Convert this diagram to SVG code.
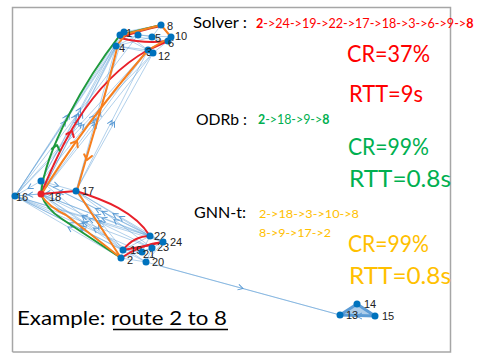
<svg xmlns="http://www.w3.org/2000/svg" width="477" height="354" viewBox="0 0 477 354">
  <style>
    .e { fill: none; stroke: #5b9bd5; stroke-width: 0.8; stroke-opacity: 0.6; marker-mid: url(#ah); }
    .ep { fill: none; stroke: #5b9bd5; stroke-width: 0.8; stroke-opacity: 0.6; }
    .nd { fill: #0072bd; }
    .lb { font-family: "Liberation Sans", Arial, sans-serif; font-size: 11px; fill: #222; }
    .rt { fill: none; stroke-width: 2; stroke-linecap: round; stroke-linejoin: round; }
    .red { stroke: #e8202a; }
    .grn { stroke: #1e9a3c; }
    .org { stroke: #f77f1e; }
    .cv { fill: none; stroke-width: 2; stroke-linecap: round; stroke-linejoin: round; }
    .t { font-family: Lato, "Liberation Sans", sans-serif; }
  </style>
  <defs>
    <marker id="ah" viewBox="-6 -4 8 8" markerWidth="8" markerHeight="8" refX="0" refY="0" orient="auto" markerUnits="userSpaceOnUse">
      <path d="M-5,-2.8 L0,0 L-5,2.8" fill="none" stroke="#5b9bd5" stroke-width="1"/>
    </marker>
    <path id="cv" d="M-5,-4 L0,0 L-5,4"/>
  </defs>

  <rect width="477" height="354" fill="#ffffff"/>
  <!-- frame -->
  <path d="M12.5 352 L12.5 7.5 L450.5 7.5 L450.5 352 L12.5 352" fill="none" stroke="#a6a6a6" stroke-width="1.5"/>

  <g id="connectors">
    <!-- top cluster internal -->
    <path class="ep" d="M124 32 L161 25 M120 35 L161 25 M116 46 L148 50 M116 46 L153 53 M124 32 L152 37 M138 35 L171 37 M120 35 L168 41 M116 46 L152 37 M148 50 L171 37 M153 53 L168 41 M124 32 L148 50 M120 35 L153 53 M116 46 L138 35 M152 37 L161 25 M161 25 L171 37"/>
    <!-- left group to top cluster -->
    <path class="e" d="M15 196 L65.5 121 L116 46"/>
    <path class="e" d="M15 196 L67.5 115.5 L120 35"/>
    <path class="e" d="M15 196 L69.5 114 L124 32"/>
    <path class="e" d="M15 196 L81.5 123 L148 50"/>
    <path class="e" d="M15 196 L84 124.5 L153 53"/>
    <path class="e" d="M15 196 L76.5 115.5 L138 35"/>
    <path class="e" d="M41 194 L78.5 120 L116 46"/>
    <path class="e" d="M41 194 L82.5 113 L124 32"/>
    <path class="e" d="M41 194 L97 123.5 L153 53"/>
    <path class="e" d="M41 194 L94.5 122 L148 50"/>
    <path class="e" d="M41 181 L78.5 113.5 L116 46"/>
    <path class="e" d="M41 181 L80.5 108 L120 35"/>
    <path class="e" d="M41 181 L94.5 115.5 L148 50"/>
    <path class="e" d="M76 191 L112 120.5 L148 50"/>
    <path class="e" d="M76 191 L114.5 122 L153 53"/>
    <path class="e" d="M76 191 L96 118.5 L116 46"/>
    <path class="e" d="M76 191 L100 111.5 L124 32"/>
    <!-- left group internal -->
    <path class="e" d="M41 194 L28 195 L15 196"/>
    <path class="e" d="M41 181 L28 188.5 L15 196"/>
    <path class="e" d="M76 191 L45.5 193.5 L15 196"/>
    <path class="ep" d="M41 181 L41 194"/>
    <path class="e" d="M41 181 L58.5 186 L76 191"/>
    <path class="e" d="M76 191 L58.5 192.5 L41 194"/>
    <!-- bottom cluster to left group -->
    <path class="e" d="M121 258 L68 227 L15 196"/>
    <path class="e" d="M123 250 L69 223 L15 196"/>
    <path class="e" d="M146 262 L80.5 229 L15 196"/>
    <path class="e" d="M142 252 L78.5 224 L15 196"/>
    <path class="e" d="M150 236 L82.5 216 L15 196"/>
    <path class="e" d="M152 248 L83.5 222 L15 196"/>
    <path class="e" d="M163 242 L89 219 L15 196"/>
    <path class="e" d="M121 258 L81 226 L41 194"/>
    <path class="e" d="M123 250 L82 222 L41 194"/>
    <path class="e" d="M150 236 L95.5 215 L41 194"/>
    <path class="e" d="M163 242 L102 218 L41 194"/>
    <path class="e" d="M152 248 L96.5 221 L41 194"/>
    <path class="e" d="M146 262 L93.5 228 L41 194"/>
    <path class="e" d="M150 236 L113 213.5 L76 191"/>
    <path class="e" d="M163 242 L119.5 216.5 L76 191"/>
    <path class="e" d="M123 250 L99.5 220.5 L76 191"/>
    <path class="e" d="M121 258 L98.5 224.5 L76 191"/>
    <path class="e" d="M152 248 L114 219.5 L76 191"/>
    <path class="e" d="M150 236 L95.5 208.5 L41 181"/>
    <path class="e" d="M163 242 L102 211.5 L41 181"/>
    <path class="e" d="M123 250 L82 215.5 L41 181"/>
    <!-- bottom cluster internal -->
    <path class="ep" d="M121 258 L123 250 M123 250 L150 236 M150 236 L163 242 M163 242 L152 248 M142 252 L152 248 M121 258 L146 262 M146 262 L163 242 M123 250 L142 252 M142 252 L150 236 M121 258 L152 248 M123 250 L163 242 M146 262 L152 248"/>
    <!-- long edge to right group -->
    <path class="e" d="M146 262 L243 288.5 L340 315"/>
    <path class="ep" d="M160 266 L340 315"/>
    <!-- right group -->
    <path d="M340 315 L357 304 L375 316 Z" fill="#5b9bd5" fill-opacity="0.5" stroke="#5b9bd5" stroke-width="3" stroke-linejoin="round"/>
    <path d="M362 313 L356 316 L362 319" fill="none" stroke="#5b9bd5" stroke-width="1"/>

    <!-- Solver route -->
    <path class="rt red" d="M121 258 Q142 244 163 242"/>
    <path class="rt red" d="M163 242 Q143 247 123 250"/>
    <path class="rt red" d="M123 250 Q134 236 150 236"/>
    <path class="rt red" d="M150 236 C135 212 105 200 76 191"/>
    <path class="rt red" d="M76 191 L41 194"/>
    <path class="rt red" d="M41 194 C55 160 85 85 148 50"/>
    <path class="rt red" d="M148 50 L168 41"/>
    <path class="rt red" d="M168 41 Q145 44 120 38"/>
    <path class="rt red" d="M120 38 Q140 30 161 26"/>
    <!-- ODRb route -->
    <path class="rt grn" d="M121 258 L62 219 Q46 209 41 194"/>
    <path class="rt grn" d="M41 194 C45 150 85 80 120 35"/>
    <path class="rt grn" d="M120 35 L161 25"/>
    <!-- GNN-t route -->
    <path class="rt org" d="M121 258 L66 215 Q49 207 41 195"/>
    <path class="rt org" d="M41 195 Q80 130 148 50"/>
    <path class="rt org" d="M148 50 L171 37"/>
    <path class="rt org" d="M171 37 L161 25"/>
    <path class="rt org" d="M161 25 L126 34 L118 44"/>
    <path class="rt org" d="M118 44 C105 100 88 150 77 191"/>
    <path class="rt org" d="M77 191 L121 258"/>
    <!-- direction marks on routes -->
    <use href="#cv" class="cv red" transform="translate(72,131) rotate(-68)"/>
    <use href="#cv" class="cv grn" transform="translate(57,145) rotate(-76)"/>
    <use href="#cv" class="cv org" transform="translate(77,141) rotate(-58)"/>
    <use href="#cv" class="cv org" transform="translate(87,160) rotate(102)"/>
  </g>

  <g id="nodes">
    <g id="n1"><circle class="nd" cx="124" cy="32" r="3.5"/><text class="lb" x="126" y="37">1</text></g>
    <g id="n3"><circle class="nd" cx="148" cy="50" r="3.5"/><text class="lb" x="146" y="56">3</text></g>
    <g id="n4"><circle class="nd" cx="116" cy="46" r="3.5"/><text class="lb" x="119" y="52">4</text></g>
    <g id="n5"><circle class="nd" cx="152" cy="37" r="3.5"/><text class="lb" x="155" y="42">5</text></g>
    <g id="n6"><circle class="nd" cx="168" cy="41" r="3.5"/><text class="lb" x="168" y="47">6</text></g>
    <g id="n7"><circle class="nd" cx="138" cy="35" r="3.5"/></g>
    <g id="n8"><circle class="nd" cx="161" cy="25" r="3.5"/><text class="lb" x="167" y="30">8</text></g>
    <g id="n9"><circle class="nd" cx="120" cy="35" r="3.5"/></g>
    <g id="n10"><circle class="nd" cx="171" cy="37" r="3.5"/><text class="lb" x="175" y="40">10</text></g>
    <g id="n12"><circle class="nd" cx="153" cy="53" r="3.5"/><text class="lb" x="158" y="60">12</text></g>
    <g id="n11"><circle class="nd" cx="41" cy="181" r="3.5"/></g>
    <g id="n16"><circle class="nd" cx="15" cy="196" r="3.5"/><text class="lb" x="16" y="201">16</text></g>
    <g id="n17"><circle class="nd" cx="76" cy="191" r="3.5"/><text class="lb" x="82" y="195">17</text></g>
    <g id="n18"><circle cx="41" cy="194" r="3.5" fill="#e8202a"/><text class="lb" x="49" y="201">18</text></g>
    <g id="n2"><circle class="nd" cx="121" cy="258" r="3.5"/><text class="lb" x="127" y="264">2</text></g>
    <g id="n19"><circle class="nd" cx="123" cy="250" r="3.5"/><text class="lb" x="130" y="254">19</text></g>
    <g id="n20"><circle class="nd" cx="146" cy="262" r="3.5"/><text class="lb" x="152" y="266">20</text></g>
    <g id="n21"><circle class="nd" cx="142" cy="252" r="3.5"/><text class="lb" x="143" y="258">21</text></g>
    <g id="n22"><circle class="nd" cx="150" cy="236" r="3.5"/><text class="lb" x="154" y="240">22</text></g>
    <g id="n23"><circle class="nd" cx="152" cy="248" r="3.5"/><text class="lb" x="157" y="251">23</text></g>
    <g id="n24"><circle class="nd" cx="163" cy="242" r="3.5"/><text class="lb" x="170" y="246">24</text></g>
    <g id="n13"><circle class="nd" cx="340" cy="315" r="3.5"/><text class="lb" x="346" y="319">13</text></g>
    <g id="n14"><circle class="nd" cx="357" cy="304" r="3.5"/><text class="lb" x="364" y="308">14</text></g>
    <g id="n15"><circle class="nd" cx="375" cy="316" r="3.5"/><text class="lb" x="382" y="320">15</text></g>
  </g>

  <g id="legend">
    <text class="t" x="193" y="28" font-size="16" fill="#000" textLength="54" lengthAdjust="spacingAndGlyphs">Solver :</text>
    <text class="t" x="256" y="28" font-size="12.6" fill="#ff0000"><tspan font-weight="bold">2</tspan>-&gt;24-&gt;19-&gt;22-&gt;17-&gt;18-&gt;3-&gt;6-&gt;9-&gt;<tspan font-weight="bold">8</tspan></text>
    <text class="t" x="347" y="62" font-size="23" fill="#ff0000" textLength="83" lengthAdjust="spacingAndGlyphs">CR=37%</text>
    <text class="t" x="349" y="102" font-size="23" fill="#ff0000" textLength="74" lengthAdjust="spacingAndGlyphs">RTT=9s</text>

    <text class="t" x="196" y="125" font-size="16" fill="#000" textLength="51" lengthAdjust="spacingAndGlyphs">ODRb :</text>
    <text class="t" x="258" y="124" font-size="12.4" fill="#00b050"><tspan font-weight="bold">2</tspan>-&gt;18-&gt;9-&gt;<tspan font-weight="bold">8</tspan></text>
    <text class="t" x="348" y="155" font-size="23" fill="#00b050" textLength="81" lengthAdjust="spacingAndGlyphs">CR=99%</text>
    <text class="t" x="349" y="187" font-size="23" fill="#00b050" textLength="102" lengthAdjust="spacingAndGlyphs">RTT=0.8s</text>

    <text class="t" x="194" y="218" font-size="16" fill="#000" textLength="52" lengthAdjust="spacingAndGlyphs">GNN-t:</text>
    <text class="t" x="259" y="218" font-size="12" fill="#ffc000" textLength="100" lengthAdjust="spacingAndGlyphs">2-&gt;18-&gt;3-&gt;10-&gt;8</text>
    <text class="t" x="259" y="237" font-size="12" fill="#ffc000" textLength="72" lengthAdjust="spacingAndGlyphs">8-&gt;9-&gt;17-&gt;2</text>
    <text class="t" x="348" y="252" font-size="23" fill="#ffc000" textLength="81" lengthAdjust="spacingAndGlyphs">CR=99%</text>
    <text class="t" x="349" y="284" font-size="23" fill="#ffc000" textLength="102" lengthAdjust="spacingAndGlyphs">RTT=0.8s</text>

    <text class="t" x="17" y="325" font-size="20" fill="#000" textLength="210" lengthAdjust="spacingAndGlyphs">Example: route 2 to 8</text>
    <line x1="113" y1="329.5" x2="228" y2="329.5" stroke="#000" stroke-width="1.5"/>
  </g>
</svg>
